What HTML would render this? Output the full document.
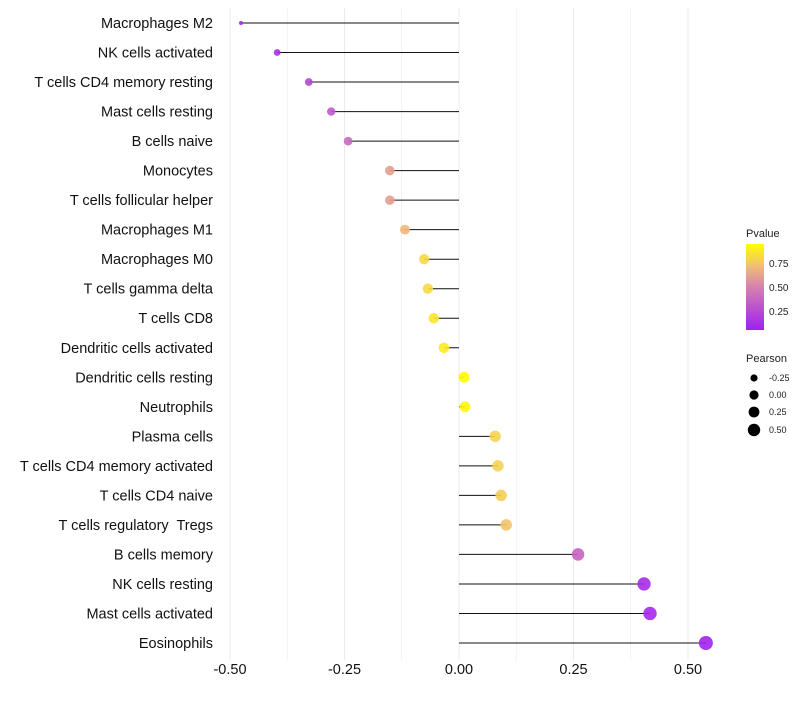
<!DOCTYPE html>
<html><head><meta charset="utf-8"><style>
body{margin:0;background:#fff;font-family:"Liberation Sans",sans-serif}
text{white-space:pre}
</style></head><body>
<svg id="chart" width="800" height="700" xmlns="http://www.w3.org/2000/svg">
<defs><linearGradient id="pg" x1="0" y1="1" x2="0" y2="0">
<stop offset="0" stop-color="#a020f0"/><stop offset="0.5" stop-color="#d780b0"/><stop offset="0.75" stop-color="#f2c070"/><stop offset="1" stop-color="#ffff00"/></linearGradient></defs>
<g id="grid"></g><g id="marks"></g><g id="labels"></g>
<g font-size="10" fill="#222">
<text x="746" y="237" font-size="11">Pvalue</text>
<rect x="746" y="244" width="18" height="86" fill="url(#pg)"/>
<text x="769" y="267">0.75</text>
<text x="769" y="291">0.50</text>
<text x="769" y="315">0.25</text>
<text x="746" y="362" font-size="11">Pearson</text>
<circle cx="754" cy="378" r="3.6" fill="#000"/><text x="769" y="381" font-size="9">-0.25</text>
<circle cx="754" cy="395" r="4.6" fill="#000"/><text x="769" y="398" font-size="9">0.00</text>
<circle cx="754" cy="412" r="5.4" fill="#000"/><text x="769" y="415" font-size="9">0.25</text>
<circle cx="754" cy="430" r="6.2" fill="#000"/><text x="769" y="433" font-size="9">0.50</text>
</g>
</svg>
<script>
const categories=["Macrophages M2","NK cells activated","T cells CD4 memory resting","Mast cells resting","B cells naive","Monocytes","T cells follicular helper","Macrophages M1","Macrophages M0","T cells gamma delta","T cells CD8","Dendritic cells activated","Dendritic cells resting","Neutrophils","Plasma cells","T cells CD4 memory activated","T cells CD4 naive","T cells regulatory  Tregs","B cells memory","NK cells resting","Mast cells activated","Eosinophils"];
const pearson=[-0.476,-0.397,-0.328,-0.279,-0.242,-0.151,-0.151,-0.118,-0.076,-0.068,-0.055,-0.033,0.011,0.013,0.079,0.085,0.092,0.103,0.26,0.404,0.417,0.539];
const pvalue=[0.03,0.08,0.2,0.3,0.38,0.62,0.62,0.72,0.85,0.85,0.9,0.92,0.99,0.97,0.82,0.82,0.8,0.76,0.35,0.06,0.05,0.01];
const xTicks=[-0.5,-0.25,0,0.25,0.5];
const xTickLabels=["-0.50","-0.25","0.00","0.25","0.50"];
const NS="http://www.w3.org/2000/svg";
const x=v=>459+v*458;
const y=i=>23+i*(620/21);
const r=v=>2+5*Math.sqrt(Math.max(v+0.476,0)/1.015);
const stops=[[0,[160,32,240]],[0.5,[215,128,176]],[0.75,[242,192,112]],[1,[255,255,0]]];
function col(p){for(let k=1;k<stops.length;k++){if(p<=stops[k][0]){const a=stops[k-1],b=stops[k],t=(p-a[0])/(b[0]-a[0]);return 'rgb('+a[1].map((c,j)=>Math.round(c+(b[1][j]-c)*t)).join(',')+')';}}return 'rgb(255,255,0)';}
function mk(t,at,parent){const e=document.createElementNS(NS,t);for(const k in at)e.setAttribute(k,at[k]);document.getElementById(parent).appendChild(e);return e;}
for(let v=-0.5;v<=0.5001;v+=0.125){const g=mk('line',{x1:x(v),x2:x(v),y1:8,y2:660,stroke:'#ebebeb','stroke-width':Math.abs(v*4-Math.round(v*4))<1e-6?1:0.6},'grid');

}
xTicks.forEach((v,i)=>{const t=mk('text',{x:x(v),y:674,'text-anchor':'middle','font-size':14.5,fill:'#111'},'labels');t.textContent=xTickLabels[i];

});
categories.forEach((c,i)=>{
const t=mk('text',{x:213,y:y(i)+5,'text-anchor':'end','font-size':14.5,fill:'#111'},'labels');t.textContent=c;


const l=mk('line',{x1:x(0),x2:x(pearson[i]),y1:y(i),y2:y(i),stroke:'#111','stroke-width':1},'marks');


const d=mk('circle',{cx:x(pearson[i]),cy:y(i),r:r(pearson[i]),fill:col(pvalue[i]),'fill-opacity':0.9},'marks');


});
</script>
</body></html>
